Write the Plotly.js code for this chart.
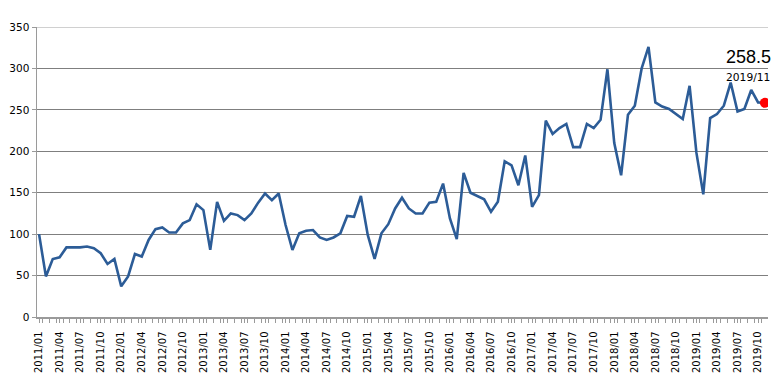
<!DOCTYPE html>
<html>
<head>
<meta charset="utf-8">
<script src="https://cdn.plot.ly/plotly-3.0.1.min.js"></script>
<style>html,body{margin:0;padding:0;background:#fff;}#chart{width:780px;height:391px;}</style>
</head>
<body>
<div id="chart"></div>
<script>
// Monthly values 2011/01 .. 2019/11
var v2011 = [100, 49, 70, 72, 84, 84, 84, 85, 83, 77, 64, 70];
var v2012 = [37, 49, 76, 73, 93, 106, 108, 102, 102, 113, 117, 136];
var v2013 = [129, 81, 139, 116, 125, 123, 117, 125, 138, 149, 141, 149];
var v2014 = [111, 81, 101, 104, 105, 96, 93, 96, 101, 122, 121, 146];
var v2015 = [99, 70, 101, 112, 131, 144, 131, 125, 125, 138, 139, 161];
var v2016 = [119, 94, 174, 150, 146, 142, 127, 139, 188, 183, 159, 195];
var v2017 = [133, 147, 237, 221, 228, 233, 205, 205, 233, 228, 238, 299];
var v2018 = [210, 171, 244, 255, 300, 326, 259, 254, 251, 245, 239, 279];
var v2019 = [198, 148, 240, 245, 255, 283, 248, 251, 274, 259, 258.5];
var years = [2011, 2012, 2013, 2014, 2015, 2016, 2017, 2018, 2019];
var lastLabel = "2019/11";

var values = [].concat(v2011, v2012, v2013, v2014, v2015, v2016, v2017, v2018, v2019);
var months = [];
years.forEach(function (y) {
  for (var m = 1; m <= 12; m++) months.push(y + "/" + (m < 10 ? "0" + m : m));
});
months = months.slice(0, values.length);
var xs = values.map(function (_, i) { return i; });
var tickIdx = xs.filter(function (i) { return i % 3 === 0; });
var tickTxt = tickIdx.map(function (i) { return months[i]; });
var lastI = values.length - 1;

var traces = [
  {
    x: xs, y: values, type: "scatter", mode: "lines",
    line: { color: "#2c5c97", width: 2.6 },
    hoverinfo: "skip"
  },
  {
    x: [xs[lastI]], y: [values[lastI]], type: "scatter", mode: "markers",
    marker: { color: "#ff0000", size: 10 },
    hoverinfo: "skip"
  }
];

var layout = {
  width: 780, height: 391,
  margin: { l: 37, r: 12, t: 27, b: 74 },
  paper_bgcolor: "#ffffff", plot_bgcolor: "#ffffff",
  showlegend: false,
  font: { family: "DejaVu Sans, sans-serif", size: 10, color: "#000" },
  xaxis: {
    range: [-0.3, 106.45],
    tickmode: "array", tickvals: tickIdx, ticktext: tickTxt,
    tickangle: -90,
    tickfont: { size: 10, color: "#000" },
    ticks: "outside", ticklen: 4, tickcolor: "#9a9a9a",
    ticklabelstandoff: 5,
    minor: { tick0: 0.5, dtick: 1, ticks: "outside", ticklen: 4, tickcolor: "#9a9a9a", showgrid: false },
    showgrid: false, zeroline: false,
    showline: true, linecolor: "#9a9a9a", linewidth: 1.5
  },
  yaxis: {
    range: [0, 350], tickvals: [0, 50, 100, 150, 200, 250, 300, 350],
    tickfont: { size: 10.5, color: "#000" },
    ticks: "outside", ticklen: 4, tickcolor: "#9a9a9a",
    showgrid: true, gridcolor: "#7f7f7f", gridwidth: 1,
    zeroline: false,
    showline: true, linecolor: "#9a9a9a", linewidth: 1.5
  },
  shapes: [
    { type: "line", xref: "paper", yref: "y", x0: 0, x1: 1, y0: 350, y1: 350,
      line: { color: "#c0c0c0", width: 1.5 }, layer: "below" }
  ],
  annotations: [
    { xref: "paper", yref: "paper", x: 1.0068, y: 0.897, xanchor: "right", yanchor: "middle",
      text: String(values[lastI]), showarrow: false,
      font: { family: "Liberation Sans, Arial, sans-serif", size: 18, color: "#000" } },
    { xref: "paper", yref: "paper", x: 1.0054, y: 0.827, xanchor: "right", yanchor: "middle",
      text: lastLabel, showarrow: false,
      font: { family: "DejaVu Sans, sans-serif", size: 10.7, color: "#000" } }
  ]
};

Plotly.newPlot("chart", traces, layout, { staticPlot: true, displayModeBar: false });
</script>
</body>
</html>
